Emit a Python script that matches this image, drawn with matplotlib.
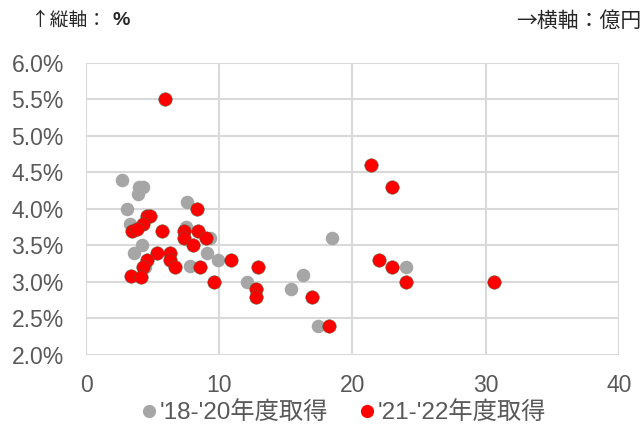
import matplotlib
matplotlib.use("Agg")
import matplotlib.pyplot as plt
from matplotlib.ticker import FuncFormatter, MultipleLocator
from matplotlib.lines import Line2D

# Acquisitions FY2018-2020: price (100M yen) vs. yield (%)
early_price = [2.7, 4.0, 4.3, 3.9, 3.1, 7.6, 3.3, 7.5, 9.3, 4.2, 3.6,
               9.1, 9.9, 7.8, 4.4, 12.1, 16.3, 15.4, 17.4, 18.5, 24.0]
early_yield = [4.4, 4.3, 4.3, 4.2, 4.0, 4.1, 3.8, 3.75, 3.6, 3.5, 3.4,
               3.4, 3.3, 3.22, 3.2, 3.0, 3.1, 2.9, 2.4, 3.6, 3.2]

# Acquisitions FY2021-2022
late_price = [5.9, 8.3, 4.55, 4.8, 4.3, 3.45, 3.8, 5.7, 7.35, 8.4, 7.35,
              9.0, 8.05, 5.3, 6.3, 6.3, 6.7, 4.55, 4.3, 3.35, 4.1, 8.55,
              9.6, 10.9, 12.9, 12.75, 12.75, 17.0, 18.25, 21.4, 23.0, 22.0,
              23.0, 24.0, 30.6]
late_yield = [5.5, 4.0, 3.9, 3.9, 3.8, 3.7, 3.73, 3.7, 3.7, 3.7, 3.6,
              3.6, 3.5, 3.4, 3.4, 3.3, 3.2, 3.3, 3.2, 3.08, 3.07, 3.2,
              3.0, 3.3, 3.2, 2.9, 2.8, 2.8, 2.4, 4.6, 4.3, 3.3,
              3.2, 3.0, 3.0]

series_labels = ["'18-'20年度取得", "'21-'22年度取得"]
series_colors = ["#A6A6A6", "#FF0000"]

plt.rcParams['font.family'] = ['Liberation Sans', 'Noto Sans CJK JP', 'DejaVu Sans']

fig = plt.figure(figsize=(6.42, 4.28), dpi=100)
ax = fig.add_axes([0.134, 0.1706, 0.830, 0.6822])

ax.scatter(early_price, early_yield, s=95, color=series_colors[0],
           linewidths=0, zorder=3)
ax.scatter(late_price, late_yield, s=95, color=series_colors[1],
           edgecolors="#3a6a4a", linewidths=0.3, zorder=4)

ax.set_xlim(0, 40)
ax.set_ylim(2.0, 6.0)
ax.xaxis.set_major_locator(MultipleLocator(10))
ax.yaxis.set_major_locator(MultipleLocator(0.5))
ax.yaxis.set_major_formatter(FuncFormatter(lambda v, _: f"{v:.1f}%"))

ax.grid(True, color="#D9D9D9", linewidth=1.5, zorder=0)
ax.set_axisbelow(True)
for sp in ax.spines.values():
    sp.set_visible(False)
ax.tick_params(length=0, labelsize=16.5, labelcolor="#595959")
ax.tick_params(axis='y', pad=16)
ax.tick_params(axis='x', pad=14)

cjk = ['Noto Sans CJK JP', 'DejaVu Sans']
fig.text(0.048, 0.952, "↑縦軸：", fontsize=13.5, color="#262626",
         family=cjk, va='center')
fig.text(0.175, 0.952, "%", fontsize=14, color="#262626", weight='bold',
         family=['Liberation Sans'], va='center')
fig.text(0.999, 0.952, "→横軸：億円", fontsize=15, color="#262626",
         family=cjk, va='center', ha='right')

handles = [Line2D([], [], marker='o', linestyle='none', markersize=9.5,
                  markerfacecolor=c, markeredgewidth=0) for c in series_colors]
fig.legend(handles, series_labels, loc='center', bbox_to_anchor=(0.53, 0.035),
           ncol=2, frameon=False, handletextpad=-0.15, handlelength=1.2,
           columnspacing=1.0, labelcolor="#595959",
           prop={'family': ['Liberation Sans', 'Noto Sans CJK JP'], 'size': 17.5})

fig.savefig("out.png", dpi=100)
